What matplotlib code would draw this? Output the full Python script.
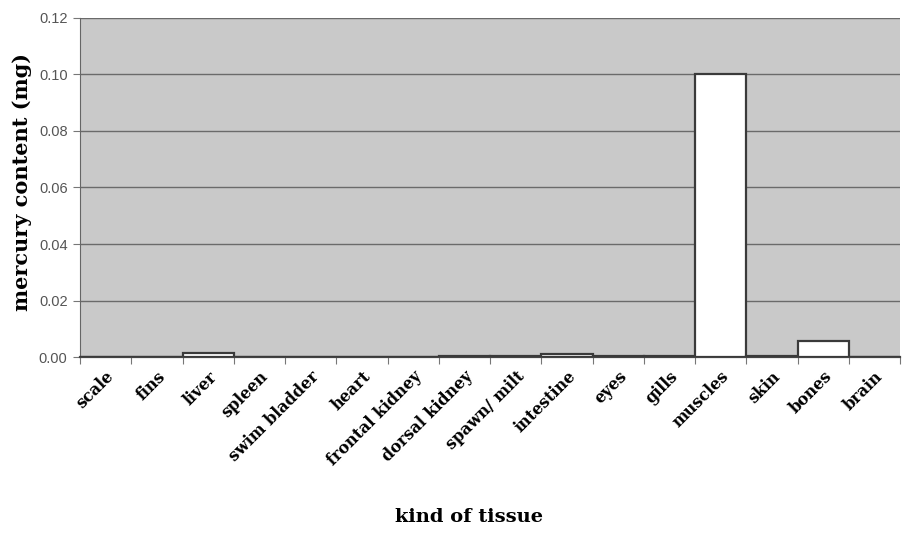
import matplotlib
matplotlib.use("Agg")
import matplotlib.pyplot as plt
import numpy as np

tissues = ["scale", "fins", "liver", "spleen", "swim bladder", "heart",
           "frontal kidney", "dorsal kidney", "spawn/ milt", "intestine",
           "eyes", "gills", "muscles", "skin", "bones", "brain"]
mercury = [0.0, 0.0, 0.0015, 0.0, 0.0, 0.0, 0.0, 0.0003, 0.0003, 0.001,
           0.0002, 0.0002, 0.1002, 0.0005, 0.0057, 0.0]
y_ticks = [0.00, 0.02, 0.04, 0.06, 0.08, 0.10, 0.12]

fig = plt.figure(figsize=(9.02, 5.53), dpi=100)
ax = fig.add_axes([0.0887, 0.3544, 0.9093, 0.6131])
ax.set_facecolor("#c9c9c9")

x = np.arange(len(tissues))
ax.bar(x, mercury, width=1.0, color="white", edgecolor="#3a3a3a", linewidth=1.6, zorder=3)

ax.set_xlim(-0.5, len(tissues) - 0.5)
ax.set_ylim(0, 0.12)
ax.set_yticks(y_ticks)
ax.set_yticklabels(["%.2f" % v for v in y_ticks], family="Liberation Sans",
                   fontsize=10.5, color="#555555")
ax.yaxis.grid(True, color="#6a6a6a", linewidth=1.0, zorder=1)
ax.set_axisbelow(True)

# ticks on category boundaries, labels in the middle
ax.set_xticks(np.arange(len(tissues) + 1) - 0.5)
ax.set_xticklabels([])
ax.set_xticks(x, minor=True)
ax.set_xticklabels(tissues, minor=True, rotation=45, ha="right", va="top",
                   rotation_mode="anchor", family="DejaVu Serif",
                   fontweight="bold", fontsize=11.5)
ax.tick_params(axis="x", which="minor", length=0, pad=8)
ax.tick_params(axis="x", which="major", length=5, color="#777777")
ax.tick_params(axis="y", length=5, color="#777777", pad=4)

for s in ["top", "right"]:
    ax.spines[s].set_visible(False)
ax.spines["left"].set_color("#666666")
ax.spines["bottom"].set_color("#444444")
ax.spines["bottom"].set_linewidth(1.6)

fig.text(0.52, 0.065, "kind of tissue", ha="center", va="center",
         family="DejaVu Serif", fontweight="bold", fontsize=14)
fig.text(0.024, 0.67, "mercury content (mg)", ha="center", va="center",
         rotation=90, family="DejaVu Serif", fontweight="bold", fontsize=15)

fig.savefig("out.png", dpi=100)
